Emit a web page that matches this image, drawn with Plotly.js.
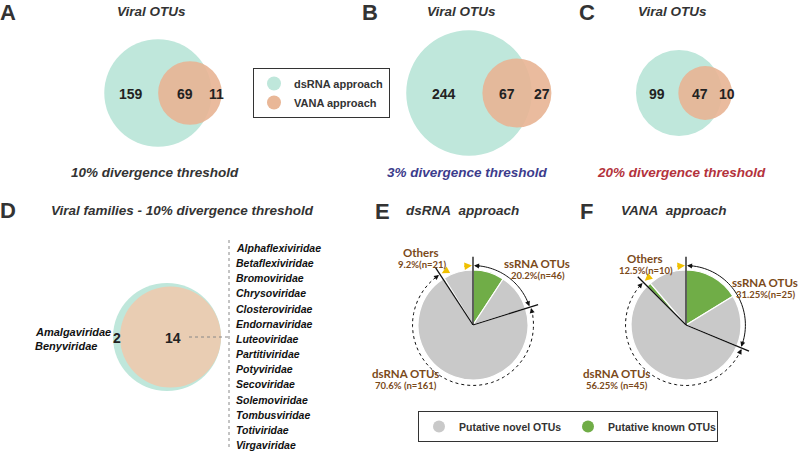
<html><head>
<script src="https://cdn.plot.ly/plotly-3.0.1.min.js"></script>
<style>
body { margin: 0; background: #fff; }
#fig { width: 800px; height: 453px; }
</style>
</head>
<body>
<div id="fig"></div>
<script>
// Venn counts for panels A-C (viral OTUs)
const vennPanels = ['A', 'B', 'C'];
const dsOnly = [159, 244, 99];
const shared = [69, 67, 47];
const vanaOnly = [11, 27, 10];
const thresholdText = ['10% divergence threshold', '3% divergence threshold', '20% divergence threshold'];

// Panel D: viral families
const famDsOnly = ['Amalgaviridae', 'Benyviridae'];
const famShared = ['Alphaflexiviridae', 'Betaflexiviridae', 'Bromoviridae', 'Chrysoviridae',
  'Closteroviridae', 'Endornaviridae', 'Luteoviridae', 'Partitiviridae', 'Potyviridae',
  'Secoviridae', 'Solemoviridae', 'Tombusviridae', 'Totiviridae', 'Virgaviridae'];
const famVanaOnly = [];

// Panels E-F: OTU groups split into putative known / novel
const pieGroups = ['ssRNA OTUs', 'dsRNA OTUs', 'Others'];
const dsrnaKnown = [21, 0, 1];
const dsrnaNovel = [25, 161, 20];
const vanaKnown = [13, 0, 1];
const vanaNovel = [12, 45, 9];

// ---- layout constants (pixels) ----
const teal = '#bfe7db', orange = 'rgba(232,180,148,0.9)', orangeD = '#e9cdb3';
const grey = '#c9c9c9', green = '#70ad47', brown = '#7b4a1a', ink = '#333333';
const vennCx = [158, 469, 679], vennCy = 93, vennScale = 3.56;
const thrColor = [ink, '#3c3c8c', '#b3323c'];

function overlapArea(R, r, d) {
  if (d >= R + r) return 0;
  if (d <= Math.abs(R - r)) return Math.PI * Math.min(R, r) ** 2;
  const a = r * r * Math.acos((d * d + r * r - R * R) / (2 * d * r));
  const b = R * R * Math.acos((d * d + R * R - r * r) / (2 * d * R));
  const c = 0.5 * Math.sqrt((-d + r + R) * (d + r - R) * (d - r + R) * (d + r + R));
  return a + b - c;
}
function solveDist(R, r, target) {
  let lo = Math.abs(R - r), hi = R + r;
  for (let i = 0; i < 60; i++) {
    const mid = (lo + hi) / 2;
    if (overlapArea(R, r, mid) > target) lo = mid; else hi = mid;
  }
  return (lo + hi) / 2;
}

const shapes = [], annotations = [], traces = [];
function txt(x, y, text, size, color, extra) {
  annotations.push(Object.assign({ x: x, y: y, xref: 'x', yref: 'y', text: text, showarrow: false,
    font: { size: size, color: color } }, extra || {}));
}
function circle(cx, cy, r, color) {
  shapes.push({ type: 'circle', xref: 'x', yref: 'y', x0: cx - r, x1: cx + r, y0: cy - r, y1: cy + r,
    fillcolor: color, line: { width: 0 }, layer: 'below' });
}

// ---- Venn A-C ----
const titleX = [151, 461, 672], letterX = [8, 370, 587], thrX = [155, 467, 681];
vennPanels.forEach((p, i) => {
  const nDs = dsOnly[i] + shared[i], nVa = vanaOnly[i] + shared[i];
  const R = vennScale * Math.sqrt(nDs), r = vennScale * Math.sqrt(nVa);
  const d = solveDist(R, r, Math.PI * vennScale * vennScale * shared[i]);
  const cx = vennCx[i], ox = cx + d;
  circle(cx, vennCy, R, teal);
  circle(ox, vennCy, r, orange);
  txt((cx - R + ox - r) / 2, vennCy + 1, '<b>' + dsOnly[i] + '</b>', 14, '#222');
  txt((ox - r + cx + R) / 2, vennCy + 1, '<b>' + shared[i] + '</b>', 14, '#222');
  txt((cx + R + ox + r) / 2, vennCy + 1, '<b>' + vanaOnly[i] + '</b>', 14, '#222');
  txt(letterX[i], 12, '<b>' + p + '</b>', 22, ink);
  txt(titleX[i], 11, '<b><i>Viral OTUs</i></b>', 13.5, ink);
  txt(thrX[i], 172, '<b><i>' + thresholdText[i] + '</i></b>', 13.5, thrColor[i]);
});

// ---- Venn D ----
const dCx = 167, dCy = 337, dScale = 13.5;
const nDsF = famDsOnly.length + famShared.length, nVaF = famVanaOnly.length + famShared.length;
const RD = dScale * Math.sqrt(nDsF), rD = dScale * Math.sqrt(nVaF);
const dD = solveDist(RD, rD, Math.PI * dScale * dScale * famShared.length);
circle(dCx, dCy, RD, teal);
circle(dCx + dD, dCy, rD, orangeD);
txt((dCx - RD + dCx + dD - rD) / 2 + 1, dCy + 1, '<b>' + famDsOnly.length + '</b>', 14, '#222');
txt(dCx + dD + 3, dCy + 1, '<b>' + famShared.length + '</b>', 14, '#222');
txt(8, 210, '<b>D</b>', 22, ink);
txt(182, 210, '<b><i>Viral families - 10% divergence threshold</i></b>', 13.5, ink);
famDsOnly.forEach((f, k) => txt(33, 332 + k * 14, '<b><i>' + f + '</i></b>', 11, '#111', { xanchor: 'left' }));
famShared.forEach((f, k) => txt(234, 248 + k * 15.15, '<b><i>' + f + '</i></b>', 10.5, '#111', { xanchor: 'left' }));
shapes.push({ type: 'line', xref: 'x', yref: 'y', x0: 189, x1: 229, y0: dCy, y1: dCy, line: { color: '#888', width: 1, dash: 'dot' } });
shapes.push({ type: 'line', xref: 'x', yref: 'y', x0: 229, x1: 229, y0: 240, y1: 448, line: { color: '#888', width: 1, dash: 'dot' } });

// ---- Pies E-F ----
const pieCx = [473, 686], pieCy = 325, pieR = 55;
const pieLetters = ['E', 'F'], pieLetterX = [382, 586], pieTitleX = [462, 674];
const pieTitles = ['dsRNA\u00a0 approach', 'VANA\u00a0 approach'];
const pieDecimals = [1, 2];
const labelPos = [[[537, 263], [405, 373], [421, 252]], [[765, 282], [616, 373], [645, 258]]];
const knownSets = [dsrnaKnown, vanaKnown], novelSets = [dsrnaNovel, vanaNovel];

function pt(cx, rho, deg) {
  const a = deg * Math.PI / 180;
  return [cx + rho * Math.sin(a), pieCy - rho * Math.cos(a)];
}
function arcPath(cx, rho, a0, a1) {
  let s = '';
  for (let k = 0; k <= 40; k++) {
    const q = pt(cx, rho, a0 + (a1 - a0) * k / 40);
    s += (k ? ' L ' : 'M ') + q[0].toFixed(2) + ',' + q[1].toFixed(2);
  }
  return s;
}
function arrow(cx, rho, tipDeg, tailDeg, color, w) {
  const t = pt(cx, rho, tipDeg), b = pt(cx, rho, tailDeg);
  annotations.push({ x: t[0], y: t[1], ax: b[0], ay: b[1], xref: 'x', yref: 'y', axref: 'x', ayref: 'y',
    text: '', showarrow: true, arrowhead: 2, arrowsize: 1, arrowwidth: w, arrowcolor: color, standoff: 0 });
}

pieLetters.forEach((L, p) => {
  const known = knownSets[p], novel = novelSets[p], cx = pieCx[p];
  const vals = [], cols = [], labs = [];
  pieGroups.forEach((g, i) => {
    vals.push(known[i], novel[i]);
    cols.push(green, grey);
    labs.push(g + ' known', g + ' novel');
  });
  traces.push({
    type: 'pie', values: vals, labels: labs, sort: false, direction: 'clockwise', rotation: 0,
    marker: { colors: cols, line: { color: '#fff', width: 1.2 } },
    textinfo: 'none', hoverinfo: 'skip', showlegend: false,
    domain: { x: [(cx - pieR) / 800, (cx + pieR) / 800], y: [1 - (pieCy + pieR) / 453, 1 - (pieCy - pieR) / 453] }
  });
  const totals = pieGroups.map((g, i) => known[i] + novel[i]);
  const all = totals.reduce((a, b) => a + b, 0);
  const th1 = totals[0] / all * 360, th2 = (totals[0] + totals[1]) / all * 360;
  [0, th1, th2].forEach(a => {
    const e = pt(cx, pieR * 1.24, a);
    shapes.push({ type: 'line', xref: 'x', yref: 'y', x0: cx, y0: pieCy, x1: e[0], y1: e[1], line: { color: '#111', width: 1.3 } });
  });
  // solid arc for ssRNA, dotted arc for dsRNA
  shapes.push({ type: 'path', xref: 'x', yref: 'y', path: arcPath(cx, pieR * 1.08, 2, th1 - 2), line: { color: '#111', width: 1 } });
  arrow(cx, pieR * 1.08, 1, 8, '#111', 1);
  arrow(cx, pieR * 1.08, th1 - 1, th1 - 8, '#111', 1);
  shapes.push({ type: 'path', xref: 'x', yref: 'y', path: arcPath(cx, pieR * 1.1, th1 + 2, th2 - 2), line: { color: '#111', width: 1, dash: 'dot' } });
  arrow(cx, pieR * 1.1, th1 + 1, th1 + 7, '#111', 1);
  arrow(cx, pieR * 1.1, th2 - 1, th2 - 7, '#111', 1);
  // yellow arrows for Others
  arrow(cx, pieR * 1.08, 359, 350, '#f0c000', 1.5);
  arrow(cx, pieR * 1.1, th2 + 2, th2 + 9, '#f0c000', 1.5);

  pieGroups.forEach((g, i) => {
    const pct = +(totals[i] / all * 100).toFixed(pieDecimals[p]);
    const pos = labelPos[p][i];
    txt(pos[0], pos[1], '<b>' + g + '</b>', 12, brown, { font: { size: 11.5, color: brown, family: 'Lato' } });
    txt(pos[0] + 1, pos[1] + 12, '<b>' + pct + '%' + (i === 1 ? ' ' : '') + '(n=' + totals[i] + ')</b>', 9.5, brown,
      { font: { size: 9.5, color: brown, family: 'Lato' } });
  });
  txt(pieLetterX[p], 211, '<b>' + L + '</b>', 22, ink);
  txt(pieTitleX[p], 210, '<b><i>' + pieTitles[p] + '</i></b>', 13.5, ink);
});

// ---- legends ----
traces.push({ type: 'scatter', mode: 'markers', x: [null], y: [null], name: 'dsRNA approach', marker: { size: 14, color: teal }, legend: 'legend' });
traces.push({ type: 'scatter', mode: 'markers', x: [null], y: [null], name: 'VANA approach', marker: { size: 14, color: '#e9b797' }, legend: 'legend' });
traces.push({ type: 'scatter', mode: 'markers', x: [null], y: [null], name: 'Putative novel OTUs', marker: { size: 12, color: grey }, legend: 'legend2' });
traces.push({ type: 'scatter', mode: 'markers', x: [null], y: [null], name: 'Putative known OTUs', marker: { size: 12, color: green }, legend: 'legend2' });

const layout = {
  width: 800, height: 453,
  margin: { l: 0, r: 0, t: 0, b: 0 },
  paper_bgcolor: '#fff', plot_bgcolor: 'rgba(0,0,0,0)',
  font: { family: 'Arial', color: ink },
  xaxis: { range: [0, 800], visible: false, fixedrange: true },
  yaxis: { range: [453, 0], visible: false, fixedrange: true },
  showlegend: true,
  legend: { x: 253 / 800, y: 1 - 68 / 453, xanchor: 'left', yanchor: 'top', bordercolor: '#333', borderwidth: 1,
    font: { size: 11, color: ink, weight: 'bold' }, bgcolor: '#fff', itemwidth: 30 },
  legend2: { x: 418 / 800, y: 1 - 411 / 453, xanchor: 'left', yanchor: 'top', orientation: 'h', bordercolor: '#333', borderwidth: 1,
    font: { size: 10.5, color: ink, weight: 'bold' }, bgcolor: '#fff', itemwidth: 30, entrywidth: 104, entrywidthmode: 'pixels' },
  shapes: shapes,
  annotations: annotations
};

Plotly.newPlot('fig', traces, layout, { displayModeBar: false, staticPlot: true });
</script>
</body></html>
